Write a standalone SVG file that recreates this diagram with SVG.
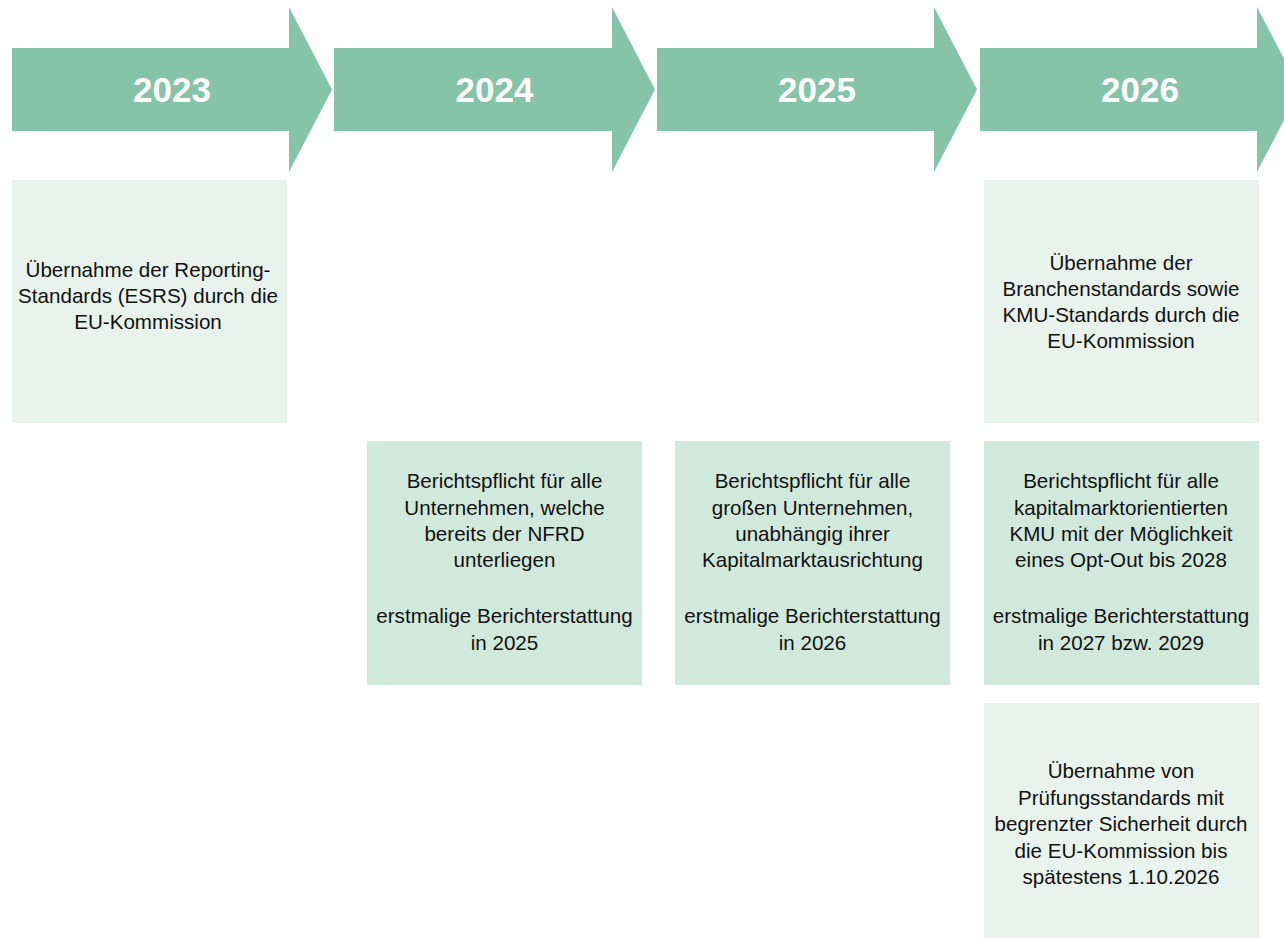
<svg xmlns="http://www.w3.org/2000/svg" width="1284" height="939" viewBox="0 0 1284 939">
  <style>
    .arrow { fill: #86C4A9; }
    .year { font-family: "Liberation Sans", Arial, sans-serif; font-weight: bold; font-size: 35px; fill: #FFFFFF; text-anchor: middle; }
    .light { fill: #E8F3ED; }
    .mid { fill: #D1E9DD; }
    .txt { font-family: "Liberation Sans", Arial, sans-serif; font-size: 20.6px; fill: #111111; text-anchor: middle; }
  </style>
  <rect width="1284" height="939" fill="#FFFFFF"/>

  <!-- timeline arrows -->
  <g id="arrow-2023">
    <polygon class="arrow" points="12,48 289,48 289,7 332,89.5 289,172 289,131 12,131"/>
    <text class="year" x="172" y="101.5">2023</text>
  </g>
  <g id="arrow-2024">
    <polygon class="arrow" points="334,48 612,48 612,7 655,89.5 612,172 612,131 334,131"/>
    <text class="year" x="494.5" y="101.5">2024</text>
  </g>
  <g id="arrow-2025">
    <polygon class="arrow" points="657,48 934,48 934,7 977,89.5 934,172 934,131 657,131"/>
    <text class="year" x="817" y="101.5">2025</text>
  </g>
  <g id="arrow-2026">
    <polygon class="arrow" points="980,48 1257,48 1257,7 1300,89.5 1257,172 1257,131 980,131"/>
    <text class="year" x="1140" y="101.5">2026</text>
  </g>

  <!-- milestone boxes -->
  <g id="box-2023-esrs">
    <rect class="light" x="12" y="180" width="275" height="243"/>
    <text class="txt" x="148" y="277">Übernahme der Reporting-</text>
    <text class="txt" x="148" y="303">Standards (ESRS) durch die</text>
    <text class="txt" x="148" y="329">EU-Kommission</text>
  </g>

  <g id="box-2024-nfrd">
    <rect class="mid" x="367" y="441" width="275" height="244"/>
    <text class="txt" x="504.5" y="488">Berichtspflicht für alle</text>
    <text class="txt" x="504.5" y="515">Unternehmen, welche</text>
    <text class="txt" x="504.5" y="541">bereits der NFRD</text>
    <text class="txt" x="504.5" y="567">unterliegen</text>
    <text class="txt" x="504.5" y="623">erstmalige Berichterstattung</text>
    <text class="txt" x="504.5" y="650">in 2025</text>
  </g>

  <g id="box-2025-large">
    <rect class="mid" x="675" y="441" width="275" height="244"/>
    <text class="txt" x="812.5" y="488">Berichtspflicht für alle</text>
    <text class="txt" x="812.5" y="515">großen Unternehmen,</text>
    <text class="txt" x="812.5" y="541">unabhängig ihrer</text>
    <text class="txt" x="812.5" y="567">Kapitalmarktausrichtung</text>
    <text class="txt" x="812.5" y="623">erstmalige Berichterstattung</text>
    <text class="txt" x="812.5" y="650">in 2026</text>
  </g>

  <g id="box-2026-sector">
    <rect class="light" x="984" y="180" width="275" height="243"/>
    <text class="txt" x="1121" y="270">Übernahme der</text>
    <text class="txt" x="1121" y="296">Branchenstandards sowie</text>
    <text class="txt" x="1121" y="322">KMU-Standards durch die</text>
    <text class="txt" x="1121" y="348">EU-Kommission</text>
  </g>

  <g id="box-2026-kmu">
    <rect class="mid" x="984" y="441" width="275" height="244"/>
    <text class="txt" x="1121" y="488">Berichtspflicht für alle</text>
    <text class="txt" x="1121" y="515">kapitalmarktorientierten</text>
    <text class="txt" x="1121" y="541">KMU mit der Möglichkeit</text>
    <text class="txt" x="1121" y="567">eines Opt-Out bis 2028</text>
    <text class="txt" x="1121" y="623">erstmalige Berichterstattung</text>
    <text class="txt" x="1121" y="650">in 2027 bzw. 2029</text>
  </g>

  <g id="box-2026-audit">
    <rect class="light" x="984" y="703" width="275" height="235"/>
    <text class="txt" x="1121" y="778">Übernahme von</text>
    <text class="txt" x="1121" y="805">Prüfungsstandards mit</text>
    <text class="txt" x="1121" y="831">begrenzter Sicherheit durch</text>
    <text class="txt" x="1121" y="858">die EU-Kommission bis</text>
    <text class="txt" x="1121" y="884">spätestens 1.10.2026</text>
  </g>

  <!-- no connectors besides the timeline arrows -->
  <g id="connectors"/>
</svg>
